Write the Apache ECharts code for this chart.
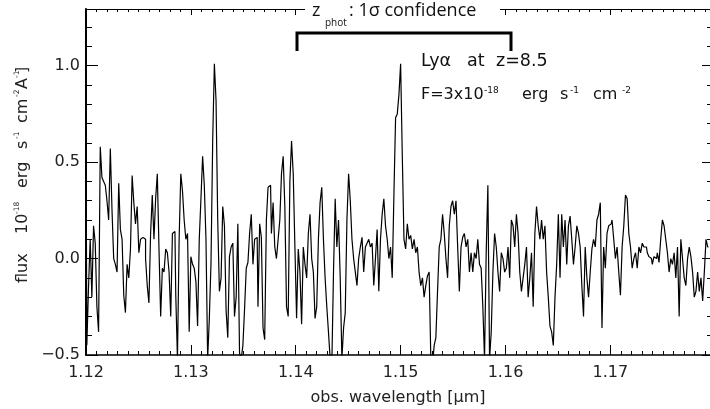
<!DOCTYPE html>
<html><head><meta charset="utf-8">
<script src="https://cdn.jsdelivr.net/npm/echarts@6/dist/echarts.min.js"></script>
<style>html,body{margin:0;padding:0;background:#fff}#c{width:710px;height:409px}</style>
</head><body><div id="c"></div>
<script>
// ---- data ----
const WL_START = 1.12;      // µm, first pixel
const WL_STEP = 0.00016;    // µm per spectral pixel
const flux = [
 0.67,-0.45,-0.15,0.1,-0.2,0.17,0.08,-0.25,-0.38,0.58,
 0.42,0.40,0.38,0.30,0.20,0.57,0.25,0.0,-0.03,-0.07,
 0.39,0.15,0.1,-0.19,-0.28,-0.03,-0.1,0.05,0.43,0.29,
 0.18,0.27,0.03,0.1,0.11,0.1,0.0,-0.14,-0.23,0.13,
 0.33,0.1,0.31,0.44,0.05,-0.3,-0.05,-0.07,0.05,0.03,
 -0.07,-0.3,0.13,0.14,-0.19,-0.52,0.1,0.44,0.35,0.2,
 0.1,0.13,-0.38,0.01,-0.03,-0.05,-0.12,-0.35,0.1,0.31,
 0.53,0.38,0.1,-0.52,-0.31,-0.02,0.61,1.01,0.82,0.2,
 -0.17,-0.1,0.27,0.17,-0.27,-0.41,0.01,0.06,0.08,-0.3,
 -0.2,0.18,
 -0.49,-0.52,-0.45,-0.26,-0.05,-0.02,0.13,0.23,-0.03,0.1,
 0.11,-0.25,0.18,0.11,-0.36,-0.42,0.2,0.37,0.38,0.13,
 0.29,0.06,0.0,0.1,0.2,0.44,0.53,0.27,-0.25,-0.3,
 0.4,0.61,0.44,0.06,-0.31,0.05,-0.07,-0.34,0.06,-0.03,
 -0.1,0.13,0.23,0.0,-0.07,-0.31,-0.25,0.1,0.29,0.37,
 0.1,-0.1,-0.25,-0.38,-0.52,-0.55,-0.07,0.31,0.06,0.2,
 -0.1,-0.52,-0.36,-0.28,0.2,0.44,0.3,0.1,0.0,-0.07,
 -0.14,0.0,0.06,0.11,-0.07,0.06,0.08,0.1,0.06,0.08,
 -0.14,0.0,0.15,-0.17,0.1,0.23,0.31,0.17,0.1,
 0.0,0.06,-0.1,0.33,0.73,0.75,0.85,1.01,0.53,0.1,
 0.05,0.18,0.1,0.12,0.05,0.1,0.03,0.06,-0.07,-0.14,
 -0.1,-0.2,-0.14,-0.09,-0.07,-0.52,-0.55,-0.45,-0.41,-0.17,
 0.06,0.1,0.23,0.13,0.0,-0.1,0.17,0.27,0.3,0.23,
 0.3,0.06,-0.17,0.06,0.11,0.13,0.06,0.1,-0.07,0.03,
 -0.07,0.03,0.0,0.1,-0.03,-0.05,-0.25,-0.52,0.03,0.38,
 -0.52,-0.38,-0.07,0.13,0.06,-0.07,-0.17,0.03,0.0,-0.07,
 -0.05,0.06,-0.1,0.2,0.17,0.06,0.23,0.13,-0.07,-0.17,
 -0.1,-0.03,0.06,-0.2,-0.1,0.03,-0.25,0.13,0.27,0.17,
 0.1,0.2,0.1,0.17,-0.07,-0.2,-0.35,-0.38,-0.45,-0.2,
 -0.03,0.23,-0.1,0.23,0.06,0.2,-0.03,0.17,0.22,0.1,
 -0.03,0.06,0.17,0.13,0.06,-0.14,-0.3,0.06,-0.1,-0.2,
 -0.07,0.05,0.1,0.06,0.2,0.23,0.29,-0.36,0.06,-0.05,
 0.13,0.17,0.18,0.2,0.1,0.0,0.06,-0.07,-0.19,0.06,
 0.17,0.33,0.31,0.13,0.06,-0.05,0.0,0.03,-0.05,0.06,
 0.03,0.08,0.06,0.06,0.03,0.01,0.0,-0.03,0.01,0.0,
 0.03,-0.02,0.1,0.2,0.17,0.1,0.03,-0.07,0.0,-0.03,
 0.03,-0.1,0.06,-0.3,0.1,0.0,-0.1,-0.14,0.0,0.06,
 0.01,-0.07,-0.2,-0.17,-0.07,-0.17,-0.1,-0.22,-0.07,0.1,
 0.06
];
const wavelength = flux.map((_, i) => +(WL_START + i * WL_STEP).toFixed(6));
const xTickLabels = ['1.12','1.13','1.14','1.15','1.16','1.17'];
const yTickLabels = ['\u22120.5','0.0','0.5','1.0'];
const X_MIN = 1.12, X_MAX = 1.1795;
const Y_MIN = -0.5, Y_MAX = 1.294;

// ---- chart ----
const chart = echarts.init(document.getElementById('c'), null, {renderer:'canvas'});
const TF = 'DejaVu Sans';
function lab(list, vals){ return v => { for (let k=0;k<vals.length;k++) if (Math.abs(v-vals[k])<1e-7) return list[k]; return ''; }; }
const xVals = xTickLabels.map(Number);
const yVals = [-0.5,0,0.5,1.0];
function xAx(pos, interval, len, showLabel, lw, showLine){
  return {type:'value', gridIndex:0, position:pos, min:X_MIN, max:X_MAX, interval,
    axisLine:{show:showLine, onZero:false, lineStyle:{color:'#000', width:lw}},
    axisTick:{show:true, inside:true, length:len, lineStyle:{color:'#000', width:1}},
    axisLabel:{show:showLabel, showMaxLabel:false, margin:10, fontFamily:TF, fontSize:16, color:'#222', formatter: lab(xTickLabels, xVals)},
    splitLine:{show:false}};
}
function yAx(pos, interval, len, showLabel, lw, showLine){
  return {type:'value', gridIndex:0, position:pos, min:Y_MIN, max:Y_MAX, interval,
    axisLine:{show:showLine, onZero:false, lineStyle:{color:'#000', width:lw}},
    axisTick:{show:true, inside:true, length:len, lineStyle:{color:'#000', width:1}},
    axisLabel:{show:showLabel, showMaxLabel:false, margin:6, fontFamily:TF, fontSize:16, color:'#222', formatter: lab(yTickLabels, yVals)},
    splitLine:{show:false}};
}
const txt = (x, y, s, size, fam, extra) => Object.assign({type:'text', z:100, x, y,
  style:{text:s, fontSize:size, fontFamily:fam, fill:'#111', textAlign:'left', verticalAlign:'middle'}}, extra||{});
const rtxt = (x, y, s, size) => ({type:'text', z:100, x, y, rotation:Math.PI/2,
  style:{text:s, fontSize:size, fontFamily:TF, fill:'#222', textAlign:'left', verticalAlign:'middle'}});

chart.setOption({
  animation:false,
  backgroundColor:'#fff',
  grid:{left:86, top:9, width:625, height:346, containLabel:false},
  xAxis:[ xAx('bottom',0.01,10,true,1.5,true), xAx('bottom',0.001,4,false,1.5,false),
          xAx('top',0.01,6,false,1,true), xAx('top',0.001,3,false,1,false) ],
  yAxis:[ yAx('left',0.5,12,true,2,true), yAx('left',0.1,6,false,2,false),
          yAx('right',0.5,8,false,1,false), yAx('right',0.1,3,false,1,false) ],
  series:[{type:'line', xAxisIndex:0, yAxisIndex:0, step:'middle', symbol:'none', showSymbol:false,
    clip:true, silent:true, lineStyle:{color:'#000', width:1.2},
    data: wavelength.map((w,i)=>[w, flux[i]])}],
  graphic:[
    {type:'rect', z:90, shape:{x:305, y:0, width:195, height:20}, style:{fill:'#fff'}},
    {type:'polyline', z:100, shape:{points:[[297,51],[297,33],[511,33],[511,51]]}, style:{stroke:'#000', lineWidth:3, fill:null, lineJoin:'miter'}},
    txt(312, 11, 'z', 18, 'Open Sans'),
    txt(325, 23, 'phot', 10, 'Open Sans'),
    txt(349, 11, ': 1\u03c3 confidence', 18, 'Open Sans'),
    txt(421, 61.5, 'Ly\u03b1', 17.5, TF),
    txt(467, 61.5, 'at', 17.5, TF),
    txt(496, 61.5, 'z=8.5', 17.5, TF),
    txt(421, 94.5, 'F=3x10', 16, TF),
    txt(484, 91, '-18', 9, TF),
    txt(522, 94.5, 'erg', 16, TF),
    txt(560, 94.5, 's', 16, TF),
    txt(570, 91, '-1', 9, TF),
    txt(593, 94.5, 'cm', 16, TF),
    txt(622, 91, '-2', 9, TF),
    {type:'text', z:100, x:398, y:397.5, style:{text:'obs. wavelength [\u03bcm]', fontSize:16, fontFamily:TF, fill:'#222', textAlign:'center', verticalAlign:'middle'}},
    rtxt(23, 283, 'flux', 16),
    rtxt(23, 234, '10', 16),
    rtxt(17.5, 214, '-18', 7.5),
    rtxt(23, 188, 'erg', 16),
    rtxt(23, 149, 's', 16),
    rtxt(17.5, 139, '-1', 7.5),
    rtxt(23, 123, 'cm', 16),
    rtxt(17.5, 97, '-2', 7.5),
    rtxt(23, 89, 'A', 16),
    rtxt(17.5, 78, '-1', 7.5),
    rtxt(23, 73, ']', 16)
  ]
});
</script>
</body></html>
